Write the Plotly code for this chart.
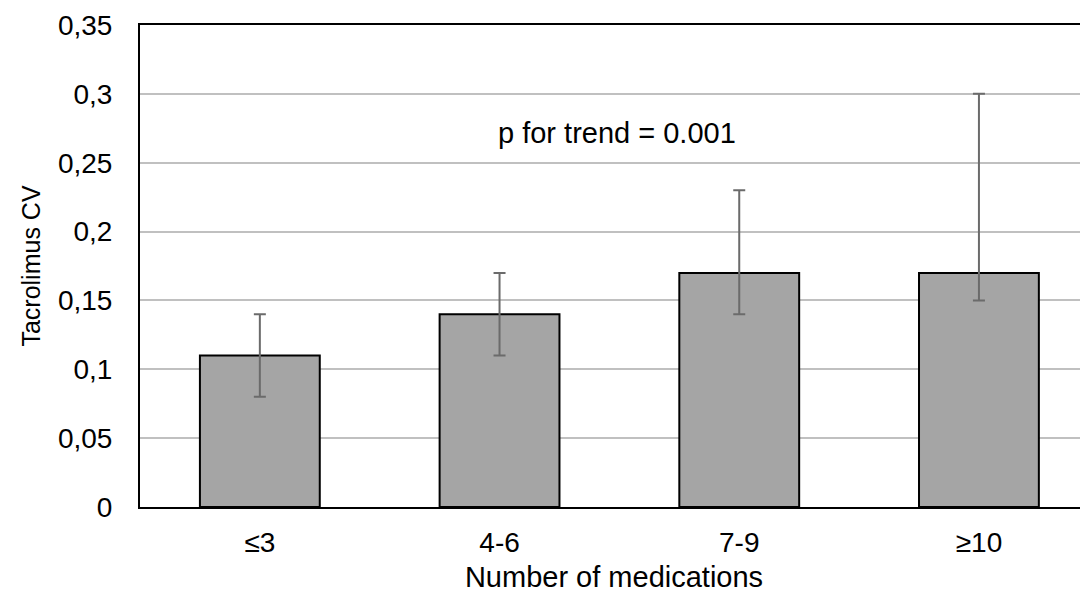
import plotly.graph_objects as go

categories = ["≤3", "4-6", "7-9", "≥10"]
values = [0.11, 0.14, 0.17, 0.17]
upper = [0.14, 0.17, 0.23, 0.30]
lower = [0.08, 0.11, 0.14, 0.15]
ytick_vals = [0, 0.05, 0.1, 0.15, 0.2, 0.25, 0.3, 0.35]
ytick_text = ["0", "0,05", "0,1", "0,15", "0,2", "0,25", "0,3", "0,35"]

err_plus = [u - v for u, v in zip(upper, values)]
err_minus = [v - l for v, l in zip(values, lower)]

font = "Liberation Sans, Arial, sans-serif"

fig = go.Figure(go.Bar(
    x=list(range(len(categories))), y=values, width=0.5,
    marker=dict(color="#a5a5a5", line=dict(color="#000000", width=2)),
    error_y=dict(type="data", symmetric=False, array=err_plus, arrayminus=err_minus,
                 color="#6b6b6b", thickness=2, width=6),
))

fig.add_annotation(x=1.49, y=0.2716, text="p for trend = 0.001", showarrow=False,
                   font=dict(size=29, color="#000000", family=font))

# the page body adds an 8px margin, so the figure is sized/offset to compensate
fig.update_layout(
    width=1080, height=588,
    margin=dict(l=132, r=0, t=17, b=89),
    plot_bgcolor="white", paper_bgcolor="white",
    showlegend=False,
    font=dict(family=font, size=26, color="#000000"),
    xaxis=dict(range=[-0.5, 3.455], tickvals=list(range(len(categories))), ticktext=categories,
               showgrid=False, showline=True, linecolor="#000000", linewidth=2, mirror=True,
               ticks="", ticklabelstandoff=9, tickfont=dict(size=28), automargin=False,
               title=dict(text="Number of medications", font=dict(size=29), standoff=10)),
    yaxis=dict(range=[0, 0.35], tickvals=ytick_vals, ticktext=ytick_text,
               showgrid=True, gridcolor="#c0c0c0", gridwidth=1.5,
               showline=True, linecolor="#000000", linewidth=2, zeroline=False,
               ticks="", ticklabelstandoff=20, tickfont=dict(size=28), automargin=False,
               title=dict(text="Tacrolimus CV", font=dict(size=25), standoff=10)),
)

fig.write_html("out.html")
